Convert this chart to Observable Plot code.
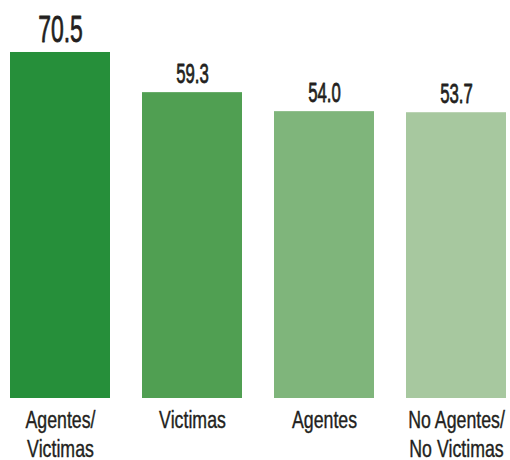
<!DOCTYPE html>
<html>
<head>
<meta charset="utf-8">
<script src="https://cdn.jsdelivr.net/npm/d3@7"></script>
<script src="https://cdn.jsdelivr.net/npm/@observablehq/plot@0.6"></script>
<style>
  html, body { margin: 0; padding: 0; background: #ffffff; }
  #chart svg { display: block; }
</style>
</head>
<body>
<div id="chart"></div>
<script>
const categories = ["Agentes/\nVictimas", "Victimas", "Agentes", "No Agentes/\nNo Victimas"];
const values = [70.5, 59.3, 54.0, 53.7];
const valueLabels = ["70.5", "59.3", "54.0", "53.7"];
const colors = ["#268f3a", "#509f52", "#7fb57b", "#a7c89f"];
const baseline = -26;
const yTop = 85;

const data = categories.map((c, i) => ({cat: c, value: values[i], label: valueLabels[i]}));
const maxV = d3.max(values);
const font = "'Liberation Sans', Arial, sans-serif";

const chart = Plot.plot({
  width: 510,
  height: 460,
  marginTop: 0,
  marginBottom: 62,
  marginLeft: 9,
  marginRight: 2,
  style: {fontFamily: font, background: "#ffffff"},
  x: {domain: categories, axis: null, paddingInner: 0.24, paddingOuter: 0},
  y: {domain: [baseline, yTop], axis: null},
  color: {domain: categories, range: colors},
  marks: [
    Plot.barY(data, {x: "cat", y1: () => baseline, y2: "value", fill: "cat"}),
    Plot.text(data, {
      x: "cat", y: "value", text: "label", dy: -10, lineAnchor: "bottom",
      fontSize: d => d.value === maxV ? 37 : 27, fill: "#231f20",
      stroke: "#231f20", strokeWidth: 0.8
    }),
    Plot.text(data, {
      x: "cat", y: () => baseline, text: "cat", dy: 9, lineAnchor: "top", lineHeight: 1.2,
      fontSize: 24, fill: "#231f20", stroke: "#231f20", strokeWidth: 0.4
    })
  ]
});
document.getElementById("chart").appendChild(chart);

// horizontally condense text (the reference uses a condensed typeface)
chart.querySelectorAll("text").forEach(t => {
  const isValue = valueLabels.includes(t.textContent.trim());
  const k = isValue ? 0.62 : 0.74;
  let tr = t.getAttribute("transform");
  if (!tr || !/translate/.test(tr)) {
    const x = +(t.getAttribute("x") || 0), y = +(t.getAttribute("y") || 0);
    t.removeAttribute("x"); t.removeAttribute("y");
    tr = `translate(${x},${y})` + (tr ? " " + tr : "");
  }
  t.setAttribute("transform", tr + ` scale(${k},1)`);
});
</script>
</body>
</html>
